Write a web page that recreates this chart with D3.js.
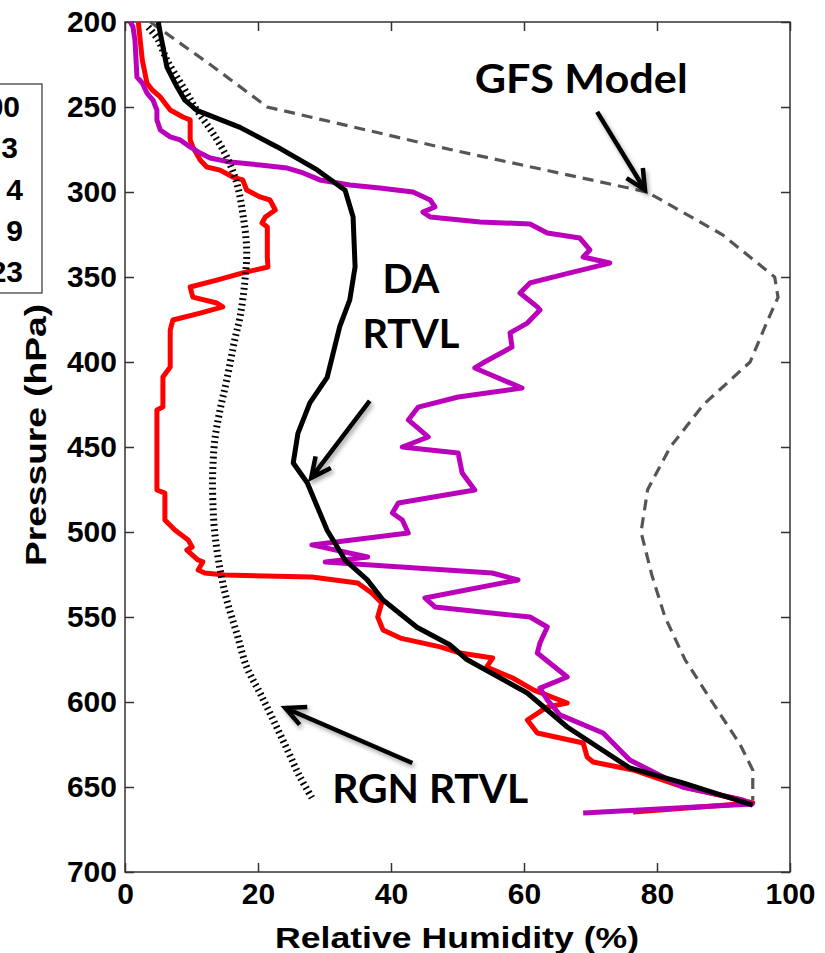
<!DOCTYPE html>
<html>
<head>
<meta charset="utf-8">
<script src="https://cdn.jsdelivr.net/npm/d3@7"></script>
<style>
  body { margin: 0; background: #fff; }
  svg { display: block; }
  .tick text { font-family: "Liberation Sans", Arial, sans-serif; font-weight: bold; fill: #000; }
  .tick line { stroke: #333; stroke-width: 1.5; }
  .note { font-family: Lato, "Open Sans", sans-serif; font-weight: bold; fill: #000; }
</style>
</head>
<body>
<svg width="825" height="953"></svg>
<script>
var width = 825,
    height = 953,
    plotLeft = 125,
    plotRight = 790,
    plotTop = 22,
    plotBottom = 872;

// pressure (hPa) and relative humidity (%)
var gfsP  = [200, 225, 250, 275, 300, 325, 350, 362, 375, 400, 425, 450, 475, 500, 525, 550, 575, 600, 625, 640, 658];
var gfsRH = [3.8, 12.8, 21.4, 48.9, 78.5, 89.8, 97.7, 98.2, 96.7, 94, 87, 82, 78.6, 77.6, 79.2, 81.2, 84.2, 88.3, 92.5, 94.4, 94.4];

var daP  = [200, 206.5, 226.5, 238, 246, 252, 262, 273.5, 287, 299, 314.7, 344, 363.5, 379, 409, 424, 442, 459.4, 471, 499, 516.5, 528, 540, 556, 566.5, 575, 594.7, 614.7, 638.8, 647.6, 660.6];
var daRH = [5.0, 5.3, 6.3, 7.8, 9.0, 10.8, 17.3, 22.9, 28.9, 33.1, 34.3, 34.6, 33.8, 32.3, 30.4, 27.8, 26.0, 25.3, 27.4, 30.4, 33.1, 36.4, 38.8, 43.9, 48.9, 51.4, 60.5, 66.5, 75.9, 83.9, 94.4];

var rgnP  = [203, 210.6, 222.4, 238, 251.8, 265.3, 279.4, 294.7, 312.4, 334, 353.5, 373.5, 387, 410.6, 428, 446, 463.5, 481, 500.6, 522, 540, 559.4, 579.4, 594.7, 610.6, 628, 644, 657.6];
var rgnRH = [3.5, 5.0, 6.3, 8.7, 10.8, 13.2, 15.3, 16.8, 17.7, 18.3, 18.0, 17.3, 16.5, 15.3, 14.3, 13.5, 13.2, 13.2, 13.5, 14.3, 15.3, 16.8, 18.3, 20.3, 22.3, 24.4, 26.3, 28.3];

var redP  = [200, 222.4, 235.9, 240, 244.1, 251.8, 255.9, 257.6, 269.4, 273.5, 281.2, 285.3, 287.1, 291.2, 292.9, 298.8, 302.9, 304.7, 310.6, 314.7, 318.2, 320.6, 338.2, 344.1, 347.6, 351.8, 355.9, 361.8, 365.3, 367.6, 371.2, 375.3, 381.2, 402.9, 408.8, 426.5, 428.2, 475.3, 477.1, 492.9, 498.8, 504.7, 508.8, 510.6, 516.5, 517.6, 522.4, 524.1, 525.3, 526.5, 530, 535.9, 541.8, 550, 557.6, 562.4, 567.6, 571.2, 574.1, 579.4, 585.9, 592.9, 600.6, 602.9, 610.6, 618.2, 624.1, 632.4, 635.3, 640, 650, 656.5, 659.4, 661.8, 664.7];
var redRH = [2.0, 2.6, 3.3, 4.1, 5.3, 6.8, 8.7, 9.8, 9.8, 10.2, 11.3, 12.3, 14.3, 16.2, 17.7, 18.3, 20.3, 21.8, 22.6, 21.1, 20.6, 21.4, 21.4, 21.5, 17.7, 13.8, 9.8, 10.2, 13.8, 14.7, 11.3, 7.2, 6.8, 6.8, 5.7, 5.7, 4.8, 4.8, 6.0, 6.0, 7.5, 9.5, 10.1, 9.3, 11.0, 11.7, 11.0, 12.0, 15.0, 28.1, 35.0, 37.1, 38.6, 38.0, 38.8, 41.4, 47.4, 50.4, 55.3, 54.4, 58.3, 61.4, 66.5, 63.5, 60.5, 62.0, 68.9, 69.5, 70.4, 76.4, 83.9, 91.4, 94.4, 86.5, 76.4];

var magP  = [200, 202.9, 210.6, 232.4, 235.9, 241.8, 245.9, 251.8, 257.6, 263.5, 267.6, 269.4, 273.5, 277.1, 280, 282.4, 284.1, 285.9, 288.8, 292.9, 295.9, 297.6, 300, 304.7, 308.8, 311.8, 314.7, 317.6, 318.8, 324.1, 327.1, 334.1, 338.2, 341.8, 347.6, 353.5, 359.4, 367.6, 369.4, 377.1, 382.9, 391.2, 400.6, 403.5, 415.3, 420.6, 426.5, 434.1, 444.1, 450, 453.5, 465.3, 475.3, 482.9, 488.8, 492.9, 500.6, 507.6, 514.7, 517.6, 524.1, 528.2, 538.8, 544.1, 550, 555.9, 565.3, 571.2, 585.3, 591.8, 598.8, 607.6, 618.2, 634.1, 650, 657.6, 660, 665.3];
var magRH = [0.8, 1.2, 1.5, 1.8, 2.6, 3.3, 4.2, 4.8, 4.8, 5.3, 6.8, 8.3, 9.8, 11.3, 12.8, 15.8, 20.3, 24.4, 26.8, 29.3, 33.8, 38.3, 43.3, 45.9, 46.6, 44.8, 45.9, 53.4, 60.9, 63.5, 68.4, 69.9, 68.9, 72.9, 66.9, 60.9, 59.4, 62.0, 62.4, 60.5, 57.9, 58.2, 53.8, 52.6, 59.7, 50.1, 44.1, 42.6, 45.6, 41.7, 50.1, 50.7, 52.6, 41.1, 40.2, 41.7, 42.6, 28.1, 36.5, 30.1, 55.2, 59.1, 45.1, 46.6, 60.9, 63.5, 62.4, 62.0, 66.5, 62.4, 63.5, 65.4, 71.9, 75.9, 83.9, 92.9, 94.3, 68.9];

var xTicks = [0, 20, 40, 60, 80, 100];
var yTicks = [200, 250, 300, 350, 400, 450, 500, 550, 600, 650, 700];
var legendTails = ["00", "3", "4", "9", "23"];

// annotations: [text, rh, p] and arrows [rh0, p0, rh1, p1]
var notes = [["GFS Model", 68.6, 241.8], ["DA", 43.0, 359.4], ["RTVL", 43.0, 391.8], ["RGN RTVL", 45.9, 659.4]];
var arrows = [[71.0, 252.9, 78.2, 298.8], [36.8, 422.9, 28.0, 468.2], [43.2, 635.9, 24.1, 603.5]];
var noteWidths = [213, 57, 97, 196];

var svg = d3.select("svg");

var x = d3.scaleLinear().domain([0, 100]).range([plotLeft, plotRight]);
var y = d3.scaleLinear().domain([200, 700]).range([plotTop, plotBottom]);

var defs = svg.append("defs");
var shadow = defs.append("filter").attr("id", "shadow")
    .attr("x", "-20%").attr("y", "-20%").attr("width", "150%").attr("height", "150%");
shadow.append("feDropShadow")
    .attr("dx", 2).attr("dy", 3).attr("stdDeviation", 2)
    .attr("flood-color", "#000").attr("flood-opacity", 0.35);

// axis titles
svg.append("text")
    .attr("x", 457).attr("y", 948)
    .attr("text-anchor", "middle")
    .attr("textLength", 364).attr("lengthAdjust", "spacingAndGlyphs")
    .style("font-family", "Liberation Sans, Arial, sans-serif")
    .style("font-weight", "bold").style("font-size", "29px")
    .text("Relative Humidity (%)");
svg.append("text")
    .attr("transform", "translate(46,435) rotate(-90)")
    .attr("text-anchor", "middle")
    .attr("textLength", 262).attr("lengthAdjust", "spacingAndGlyphs")
    .style("font-family", "Liberation Sans, Arial, sans-serif")
    .style("font-weight", "bold").style("font-size", "29px")
    .text("Pressure (hPa)");

// legend box, mostly cut off on the left
svg.append("rect")
    .attr("x", -60).attr("y", 84).attr("width", 102).attr("height", 209)
    .attr("fill", "#fff").attr("stroke", "#333").attr("stroke-width", 1.2);
svg.selectAll(".leg").data(legendTails).enter().append("text")
    .attr("class", "leg")
    .attr("x", (d, i) => [20, 18, 23, 23, 23][i])
    .attr("y", (d, i) => 117 + i * 41.3)
    .attr("text-anchor", "end")
    .style("font-family", "Liberation Sans, Arial, sans-serif")
    .style("font-weight", "bold")
    .style("font-size", "30px")
    .text(d => d);

// axes, ticks pointing inward on all four sides
var gx = svg.append("g").attr("transform", "translate(0," + plotBottom + ")")
    .call(d3.axisBottom(x).tickValues(xTicks).tickSize(-9).tickPadding(6));
svg.append("g").attr("transform", "translate(0," + plotTop + ")")
    .call(d3.axisTop(x).tickValues(xTicks).tickSize(-9).tickFormat(""));
var gy = svg.append("g").attr("transform", "translate(" + plotLeft + ",0)")
    .call(d3.axisLeft(y).tickValues(yTicks).tickSize(-9).tickPadding(8));
svg.append("g").attr("transform", "translate(" + plotRight + ",0)")
    .call(d3.axisRight(y).tickValues(yTicks).tickSize(-9).tickFormat(""));
svg.selectAll(".domain").remove();
gx.selectAll("text").style("font-size", "30px").attr("dy", "0.85em");
gy.selectAll("text").style("font-size", "30px");

svg.append("rect")
    .attr("x", plotLeft).attr("y", plotTop)
    .attr("width", plotRight - plotLeft).attr("height", plotBottom - plotTop)
    .attr("fill", "none").attr("stroke", "#333").attr("stroke-width", 1.5);

// profiles
function profile(ps, rhs) { return ps.map((p, i) => [rhs[i], p]); }
var line = d3.line().x(d => x(d[0])).y(d => y(d[1]));
var smooth = d3.line().x(d => x(d[0])).y(d => y(d[1])).curve(d3.curveCatmullRom);

var plot = svg.append("g");
plot.append("path").datum(profile(gfsP, gfsRH))
    .attr("d", line).attr("fill", "none")
    .attr("stroke", "#555").attr("stroke-width", 3.2).attr("stroke-dasharray", "11,7");
plot.append("path").datum(profile(redP, redRH))
    .attr("d", line).attr("fill", "none")
    .attr("stroke", "#ff0000").attr("stroke-width", 5).attr("stroke-linejoin", "round");
plot.append("path").datum(profile(magP, magRH))
    .attr("d", line).attr("fill", "none")
    .attr("stroke", "#bb00bb").attr("stroke-width", 5).attr("stroke-linejoin", "round");
plot.append("path").datum(profile(rgnP, rgnRH))
    .attr("d", smooth).attr("fill", "none")
    .attr("stroke", "#000").attr("stroke-width", 7).attr("stroke-dasharray", "1.8,3.4");
plot.append("path").datum(profile(daP, daRH))
    .attr("d", line).attr("fill", "none")
    .attr("stroke", "#000").attr("stroke-width", 5).attr("stroke-linejoin", "round");

// annotations
svg.selectAll(".note").data(notes).enter().append("text")
    .attr("class", "note")
    .attr("x", d => x(d[1])).attr("y", d => y(d[2]))
    .attr("text-anchor", "middle")
    .attr("textLength", (d, i) => noteWidths[i]).attr("lengthAdjust", "spacingAndGlyphs")
    .style("font-size", "40px")
    .text(d => d[0]);

var ag = svg.selectAll(".arrow").data(arrows).enter().append("g")
    .attr("class", "arrow").attr("filter", "url(#shadow)");
ag.append("path")
    .attr("d", d => {
        var x0 = x(d[0]), y0 = y(d[1]), x1 = x(d[2]), y1 = y(d[3]);
        var a = Math.atan2(y1 - y0, x1 - x0), h = 22, w = 0.45;
        var l = [x1 - h * Math.cos(a - w), y1 - h * Math.sin(a - w)],
            r = [x1 - h * Math.cos(a + w), y1 - h * Math.sin(a + w)];
        return "M" + [x0, y0] + "L" + [x1, y1] + "M" + l + "L" + [x1, y1] + "L" + r;
    })
    .attr("fill", "none").attr("stroke", "#000").attr("stroke-width", 4.5)
    .attr("stroke-linecap", "butt").attr("stroke-linejoin", "miter");
</script>
</body>
</html>
